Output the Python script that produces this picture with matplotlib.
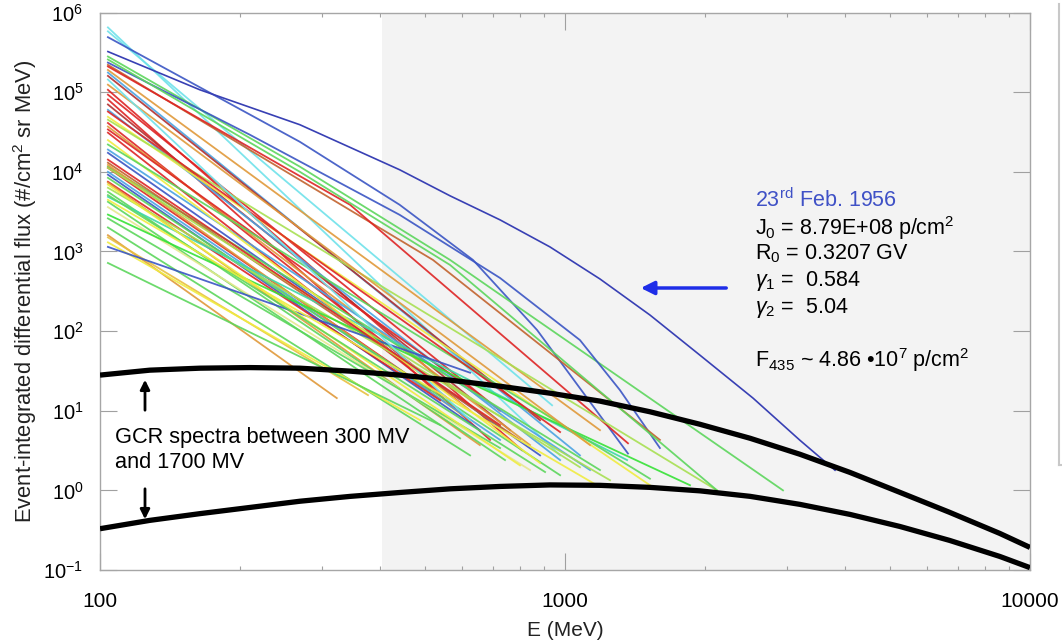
import matplotlib.pyplot as plt
from matplotlib.lines import Line2D
from matplotlib.ticker import NullLocator

plt.rcParams['font.family'] = ['Liberation Sans', 'DejaVu Sans']
plt.rcParams['mathtext.fontset'] = 'custom'
plt.rcParams['mathtext.rm'] = 'Liberation Sans'
plt.rcParams['mathtext.it'] = 'Liberation Sans:italic'
plt.rcParams['mathtext.bf'] = 'Liberation Sans:bold'

# colours of the event spectra
pal = {'cyan': '#6fe2ea', 'blue': '#3a55c4', 'lblue': '#4aa3e2', 'green': '#5cd65c',
       'bgreen': '#36e236', 'ygreen': '#a8e052', 'yellow': '#f0ec40', 'lyellow': '#e6e88e',
       'orange': '#e0993a', 'yorange': '#e8c040', 'red': '#de2424', 'dred': '#b23030',
       'brown': '#c2632e', 'cgreen': '#3ed8a8'}

# event-integrated SEP spectra (E in MeV, flux)
ev_E = [[104, 976], [104, 938], [104, 269, 441, 634, 871, 1366], [104, 269, 566, 2943],
        [104, 210, 441, 725, 1077, 1313, 1600], [104, 269, 520, 1600], [104, 345, 1366], [104, 1189],
        [104, 1077], [104, 884], [104, 808], [104, 725], [104, 690], [104, 762],
        [104, 976], [104, 1523], [104, 2123], [104, 625], [104, 841], [104, 656],
        [104, 566], [104, 1132], [104, 884], [104, 1189], [104, 513], [104, 800],
        [104, 625], [104, 1077], [104, 725], [104, 656], [104, 976], [104, 539],
        [104, 656], [104, 1250], [104, 743], [104, 1360], [104, 595], [104, 841],
        [104, 1857], [104, 725], [104, 625], [104, 323], [104, 377], [104, 488],
        [104, 625], [104, 539], [104, 884], [104, 1523], [104, 976], [104, 1132],
        [104, 625], [104, 800], [104, 906], [104, 1189], [104, 725],
        [104, 269, 566, 2123]]
ev_F = [[6.5e5, 2.75], [5.8e5, 11.7], [4.9e5, 2.38e4, 3.85e3, 782, 103, 2.9], [2.8e5, 1.16e4, 782, 1.0],
        [2.35e5, 2.92e4, 2.88e3, 464, 77, 18.1, 3.4], [2.2e5, 7.9e3, 782, 4.3], [2.1e5, 3.85e3, 3.9], [1.9e5, 5.7],
        [1.76e5, 2.75], [1.6e5, 7.6], [1.07e5, 3.2], [9.3e4, 10], [8.1e4, 4.3], [7.0e4, 5.7],
        [6.0e4, 2.4], [4.9e4, 1.16], [4.5e4, 1.0], [4.1e4, 10], [3.7e4, 3.7], [3.4e4, 15.7],
        [3.1e4, 13.5], [1.9e4, 1.8], [1.73e4, 2.75], [1.16e4, 1.8], [1.12e4, 18], [1.3e4, 4.3],
        [1.22e4, 7.6], [1.12e4, 1.95], [1.0e4, 4.3], [9.2e3, 5.7], [8.4e3, 1.55], [7.5e3, 13.5],
        [7.3e3, 3.7], [6.3e3, 1.34], [5.6e3, 2.4], [4.85e3, 2.4], [4.2e3, 4.5], [3.6e3, 1.8],
        [2.9e3, 1.16], [2.6e3, 3.4], [2.0e3, 2.75], [1.6e3, 14.4], [1.5e3, 15.7], [1.3e3, 7.6],
        [1.14e3, 30], [716, 6.6], [2.5e4, 2.2], [2.2e4, 1.4], [5.7e4, 5.4], [1.24e5, 3.7],
        [1.44e5, 7.6], [6.9e3, 2.06], [5.1e3, 1.7], [4.45e3, 1.1], [1.42e4, 6.6],
        [2.57e5, 1.0e4, 676, 1.0]]
ev_col = ['cyan', 'cyan', 'blue', 'green', 'blue', 'brown', 'red', 'orange',
          'lblue', 'dred', 'red', 'red', 'red', 'dred', 'lblue', 'yellow', 'ygreen',
          'red', 'orange', 'red', 'red', 'lblue', 'blue', 'green', 'red', 'brown',
          'orange', 'ygreen', 'lblue', 'blue', 'green', 'red', 'orange', 'ygreen',
          'green', 'cgreen', 'green', 'lyellow', 'bgreen', 'green', 'green', 'orange',
          'yorange', 'yellow', 'blue', 'green', 'yellow', 'green', 'red', 'orange',
          'cyan', 'yellow', 'green', 'yellow', 'red', 'green']

# 23 Feb 1956 event
e1956 = [104, 164, 269, 441, 566, 725, 928, 1189, 1523, 1950, 2537, 3200, 3808]
f1956 = [3.23e5, 1.07e5, 3.9e4, 1.06e4, 4.99e3, 2.49e3, 1.14e3, 451, 159, 49.9, 14.4, 4.26, 1.79]

# GCR spectra (300 MV and 1700 MV)
gcr_E = [100, 128, 164, 210, 269, 345, 441, 566, 725, 928, 1189, 1523, 1950,
         2500, 3200, 4100, 5250, 6720, 8610, 10000]
gcr_hi = [28.0, 32.3, 34.2, 34.8, 34.2, 31.4, 28.0, 24.2, 20.3, 16.6, 13.2, 9.7, 6.76,
          4.51, 2.84, 1.68, 0.944, 0.529, 0.288, 0.192]
gcr_lo = [0.33, 0.42, 0.51, 0.61, 0.73, 0.84, 0.94, 1.045, 1.12, 1.17, 1.156, 1.09, 0.986,
          0.841, 0.667, 0.499, 0.352, 0.235, 0.148, 0.107]

W, H = 1062, 644
fig = plt.figure(figsize=(W / 100, H / 100), dpi=100)
ax = fig.add_axes([100 / W, 1 - 570 / H, 930 / W, 557.5 / H])
ax.set_xscale('log')
ax.set_yscale('log')
ax.axvspan(404, 10000, color='#f3f3f3', lw=0, zorder=0)

for E, F, c in zip(ev_E, ev_F, ev_col):
    ax.plot(E, F, color=pal[c], lw=1.3, alpha=0.9, zorder=2)
ax.plot(e1956, f1956, color='#3840b4', lw=1.2, zorder=3)
ax.plot(gcr_E, gcr_hi, color='k', lw=3.8, zorder=4, solid_capstyle='butt', solid_joinstyle='round')
ax.plot(gcr_E, gcr_lo, color='k', lw=3.8, zorder=4, solid_capstyle='butt', solid_joinstyle='round')

ax.set_xlim(100, 10000)
ax.set_ylim(0.1, 1e6)
ax.set_xticks([100, 1000, 10000])
ax.set_xticklabels(['100', '1000', '10000'])
ax.set_yticks([10.0 ** k for k in range(-1, 7)])
ax.set_yticklabels([r'$10^{%d}$' % k for k in range(-1, 7)])
ax.yaxis.set_minor_locator(NullLocator())
ax.tick_params(which='both', direction='in', top=True, right=True, color='#a0a0a0')
ax.tick_params(which='major', length=12.5, width=0.8)
ax.tick_params(which='minor', length=3, width=0.8)
ax.tick_params(axis='x', labelsize=15, pad=16)
ax.tick_params(axis='y', labelsize=14.5, pad=12)
for s in ax.spines.values():
    s.set_color('#a6a6a6')
    s.set_linewidth(1)

ax.set_xlabel('E (MeV)', fontsize=15, color='#222222')
ax.xaxis.set_label_coords(0.5, -0.092)
ax.set_ylabel(r'Event-integrated differential flux (#/cm$^2$ sr MeV)', fontsize=15.8, color='#222222')
ax.yaxis.set_label_coords(-0.066, 0.50)

def fx(px):
    return px / W

def fy(py):
    return 1 - py / H

fs = 15.5
fig.text(fx(755), fy(200), r'23$^{\rm rd}$ Feb. 1956', color='#3f51c6', fontsize=fs, va='center')
fig.text(fx(755), fy(228), r'J$_0$ = 8.79E+08 p/cm$^2$', fontsize=fs, va='center')
fig.text(fx(755), fy(254), r'R$_0$ = 0.3207 GV', fontsize=fs, va='center')
fig.text(fx(755), fy(281), r'$\gamma_1$ =  0.584', fontsize=fs, va='center')
fig.text(fx(755), fy(308), r'$\gamma_2$ =  5.04', fontsize=fs, va='center')
fig.text(fx(755), fy(360), 'F$_{435}$ ~ 4.86 \u202210$^7$ p/cm$^2$', fontsize=fs, va='center')
fig.text(fx(115), fy(450), 'GCR spectra between 300 MV\nand 1700 MV', fontsize=15.7,
         va='center', linespacing=1.2)

ax.annotate('', xy=(fx(638), fy(288)), xytext=(fx(729), fy(288)), xycoords='figure fraction',
            arrowprops=dict(arrowstyle='-|>', color='#1e2de8', lw=2.5, mutation_scale=20))
ax.annotate('', xy=(fx(145), fy(377)), xytext=(fx(145), fy(413)), xycoords='figure fraction',
            arrowprops=dict(arrowstyle='-|>', color='k', lw=2, mutation_scale=14))
ax.annotate('', xy=(fx(145), fy(522)), xytext=(fx(145), fy(486)), xycoords='figure fraction',
            arrowprops=dict(arrowstyle='-|>', color='k', lw=2, mutation_scale=14))

# edge of the cropped box on the right
fig.add_artist(Line2D([fx(1059), fx(1059)], [fy(4), fy(465)], color='#c8c8c8', lw=1.5))
fig.add_artist(Line2D([fx(1059), 1.0], [fy(465), fy(465)], color='#c8c8c8', lw=1.5))

fig.savefig('out.png', dpi=100)
